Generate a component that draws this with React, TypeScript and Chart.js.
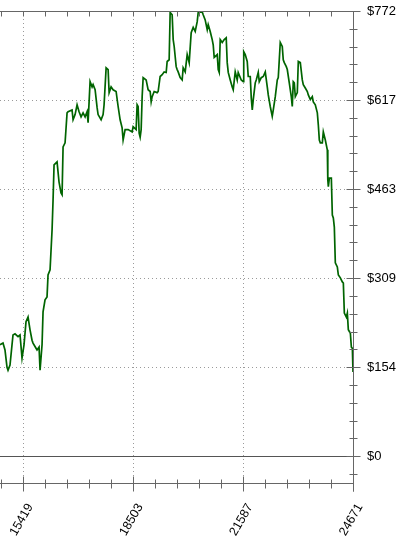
import { useEffect, useRef } from 'react';
import { Chart, registerables } from 'chart.js';

Chart.register(...registerables);

// Trade number (x) and equity (y)
const tradeNumbers = [
  14765, 14849, 14905, 14962, 14990, 15046, 15102, 15130, 15186, 15271, 15327, 15383, 15439, 15495, 15552,
  15608, 15664, 15692, 15776, 15804, 15861, 15889, 15945, 15973, 16029, 16085, 16113, 16170, 16226, 16254,
  16282, 16366, 16422, 16478, 16507, 16535, 16591, 16647, 16675, 16787, 16816, 16872, 16928, 16984, 17040,
  17096, 17153, 17209, 17237, 17293, 17349, 17377, 17434, 17490, 17518, 17602, 17658, 17686, 17743, 17799,
  17827, 17883, 17939, 18023, 18080, 18136, 18192, 18220, 18276, 18361, 18473, 18501, 18585, 18613, 18641,
  18670, 18698, 18726, 18754, 18782, 18866, 18922, 18979, 19007, 19035, 19091, 19175, 19203, 19259, 19316,
  19372, 19428, 19456, 19512, 19540, 19596, 19625, 19653, 19709, 19737, 19765, 19821, 19877, 19905, 19962,
  20018, 20074, 20130, 20186, 20243, 20299, 20327, 20439, 20467, 20523, 20580, 20608, 20664, 20720, 20748,
  20776, 20861, 20889, 20917, 20945, 21001, 21057, 21113, 21141, 21170, 21226, 21282, 21310, 21366, 21422,
  21450, 21535, 21591, 21605, 21647, 21703, 21731, 21788, 21816, 21844, 21872, 21928, 21956, 22012, 22040,
  22096, 22153, 22209, 22265, 22293, 22349, 22405, 22434, 22490, 22546, 22574, 22630, 22686, 22714, 22743,
  22799, 22827, 22883, 22939, 22967, 22995, 23023, 23052, 23108, 23136, 23192, 23248, 23276, 23332, 23389,
  23417, 23473, 23529, 23557, 23613, 23670, 23698, 23726, 23754, 23810, 23838, 23894, 23950, 23964, 23979,
  24007, 24063, 24091, 24119, 24147, 24175, 24231, 24260, 24316, 24372, 24400, 24428, 24484, 24512, 24540,
  24597, 24625, 24653, 24671,
];

const equity = [
  193, 196, 184, 154, 149, 158, 193, 210, 212, 207, 210, 170, 193, 233, 241,
  219, 201, 196, 187, 184, 189, 149, 193, 250, 271, 276, 314, 323, 392, 444,
  505, 510, 475, 456, 453, 536, 543, 595, 597, 600, 583, 592, 609, 597, 588,
  595, 588, 597, 578, 649, 640, 644, 635, 604, 592, 583, 592, 609, 673, 670,
  630, 640, 635, 632, 606, 583, 569, 548, 566, 566, 562, 571, 566, 609, 606,
  560, 553, 566, 623, 656, 652, 635, 632, 614, 623, 632, 630, 632, 658, 661,
  666, 665, 684, 687, 769, 765, 722, 710, 675, 670, 666, 656, 652, 673, 666,
  696, 682, 734, 743, 736, 753, 769, 770, 765, 756, 739, 748, 736, 722, 713,
  691, 696, 670, 665, 722, 717, 722, 725, 682, 665, 652, 640, 635, 666, 652,
  665, 652, 649, 701, 696, 684, 658, 658, 621, 600, 618, 647, 652, 665, 649,
  656, 658, 666, 640, 626, 606, 589, 600, 623, 652, 656, 717, 710, 687, 682,
  675, 670, 647, 623, 606, 649, 647, 623, 630, 684, 682, 652, 644, 638, 632,
  626, 618, 623, 614, 609, 595, 574, 548, 543, 543, 562, 548, 531, 479, 467,
  482, 482, 418, 413, 397, 335, 328, 314, 309, 302, 300, 248, 241, 248, 219,
  213, 189, 187, 146,
];

const xTickValues = [15419, 18503, 21587, 24671];
const xTickLabels = ['15419', '18503', '21587', '24671'];
const xMinorPerMajor = 5;
const yTickValues = [0, 154.3, 308.6, 462.9, 617.2, 771.5];
const yTickLabels = ['$0', '$154', '$309', '$463', '$617', '$772'];
const yMinorPerMajor = 5;
const xMin = 14765;
const xMax = 24671;
const yMin = -46.5;
const yMax = 771.5;

const AXIS_COLOR = '#666666';

const axesPlugin = {
  id: 'customAxes',
  afterDraw(chart: any) {
    const { ctx, chartArea: a, scales } = chart;
    const x = scales.x;
    const y = scales.y;
    ctx.save();
    ctx.strokeStyle = AXIS_COLOR;
    ctx.lineWidth = 1;
    const seg = (x1: number, y1: number, x2: number, y2: number) => {
      ctx.beginPath();
      ctx.moveTo(x1, y1);
      ctx.lineTo(x2, y2);
      ctx.stroke();
    };
    const top = Math.round(a.top) + 0.5;
    const bottom = Math.round(a.bottom) + 0.5;
    const right = Math.round(a.right) + 0.5;
    const zero = Math.round(y.getPixelForValue(0)) + 0.5;
    // zero line
    ctx.strokeStyle = '#555555';
    seg(0, zero, right, zero);
    ctx.strokeStyle = AXIS_COLOR;
    // frame lines
    seg(0, top, right, top);
    seg(0, bottom, right, bottom);
    seg(right, top, right, bottom + 8);
    // x ticks
    const xStep = (xTickValues[1] - xTickValues[0]) / xMinorPerMajor;
    const xStart = xTickValues[0] - Math.floor((xTickValues[0] - xMin) / xStep) * xStep;
    for (let v = xStart; v <= xMax + 0.5; v += xStep) {
      const px = Math.round(x.getPixelForValue(v)) + 0.5;
      const major = xTickValues.some((t) => Math.abs(t - v) < 1);
      if (major) seg(px, bottom - 7, px, bottom + 8);
      else seg(px, bottom - 4, px, bottom + 5);
      seg(px, top, px, top + 5);
    }
    // y ticks
    const yStep = (yTickValues[1] - yTickValues[0]) / yMinorPerMajor;
    for (let v = yTickValues[0] - Math.floor((yTickValues[0] - yMin) / yStep) * yStep; v <= yMax + 0.5; v += yStep) {
      const py = Math.round(y.getPixelForValue(v)) + 0.5;
      const major = yTickValues.some((t) => Math.abs(t - v) < 1);
      if (major) seg(right - 7, py, right + 7, py);
      else seg(right - 4, py, right + 4, py);
    }
    ctx.restore();
  },
};

export default function App() {
  const canvasRef = useRef<HTMLCanvasElement | null>(null);

  useEffect(() => {
    if (!canvasRef.current) return;
    const chart = new Chart(canvasRef.current, {
      type: 'line',
      data: {
        datasets: [
          {
            data: tradeNumbers.map((t, i) => ({ x: t, y: equity[i] })),
            borderColor: '#006400',
            borderWidth: 1.7,
            pointRadius: 0,
            tension: 0,
            fill: false,
          },
        ],
      },
      options: {
        animation: false,
        responsive: false,
        maintainAspectRatio: false,
        layout: { padding: { top: 11, left: 0, right: 0, bottom: 0 } },
        plugins: { legend: { display: false }, tooltip: { enabled: false } },
        scales: {
          x: {
            type: 'linear',
            min: xMin,
            max: xMax,
            afterBuildTicks: (scale: any) => {
              scale.ticks = xTickValues.map((v) => ({ value: v }));
            },
            afterFit: (scale: any) => {
              scale.height = 57;
              scale.paddingLeft = 0;
              scale.paddingRight = 0;
              scale.paddingTop = 0;
              scale.paddingBottom = 0;
            },
            ticks: {
              autoSkip: false,
              minRotation: 60,
              maxRotation: 60,
              padding: 18,
              labelOffset: 7,
              color: '#000000',
              font: { family: 'Liberation Sans, Arial, sans-serif', size: 12.5 },
              callback: (value: any) => {
                const idx = xTickValues.findIndex((t) => Math.abs(t - Number(value)) < 1);
                return idx >= 0 ? xTickLabels[idx] : '';
              },
            },
            grid: {
              color: (c: any) => (c.tick && c.tick.value === xMax ? 'rgba(0,0,0,0)' : '#9a9a9a'),
              lineWidth: 1,
              drawTicks: false,
            },
            border: { display: false, dash: [1, 3] },
          },
          y: {
            type: 'linear',
            position: 'right',
            min: yMin,
            max: yMax,
            afterBuildTicks: (scale: any) => {
              scale.ticks = yTickValues.map((v) => ({ value: v }));
            },
            afterFit: (scale: any) => {
              scale.width = 47;
              scale.paddingLeft = 0;
              scale.paddingRight = 0;
              scale.paddingTop = 0;
              scale.paddingBottom = 0;
            },
            ticks: {
              padding: 14,
              color: '#000000',
              font: { family: 'Liberation Sans, Arial, sans-serif', size: 13 },
              callback: (value: any) => {
                const idx = yTickValues.findIndex((t) => Math.abs(t - Number(value)) < 0.5);
                return idx >= 0 ? yTickLabels[idx] : '';
              },
            },
            grid: {
              color: (c: any) =>
                c.tick && (c.tick.value === 0 || c.tick.value === yMax) ? 'rgba(0,0,0,0)' : '#9a9a9a',
              lineWidth: 1,
              drawTicks: false,
            },
            border: { display: false, dash: [1, 3] },
          },
        },
      },
      plugins: [axesPlugin],
    });
    return () => chart.destroy();
  }, []);

  return (
    <div style={{ position: 'absolute', left: 0, top: 0, width: 400, height: 540, background: '#ffffff' }}>
      <canvas ref={canvasRef} width={400} height={540} style={{ display: 'block' }} />
    </div>
  );
}
